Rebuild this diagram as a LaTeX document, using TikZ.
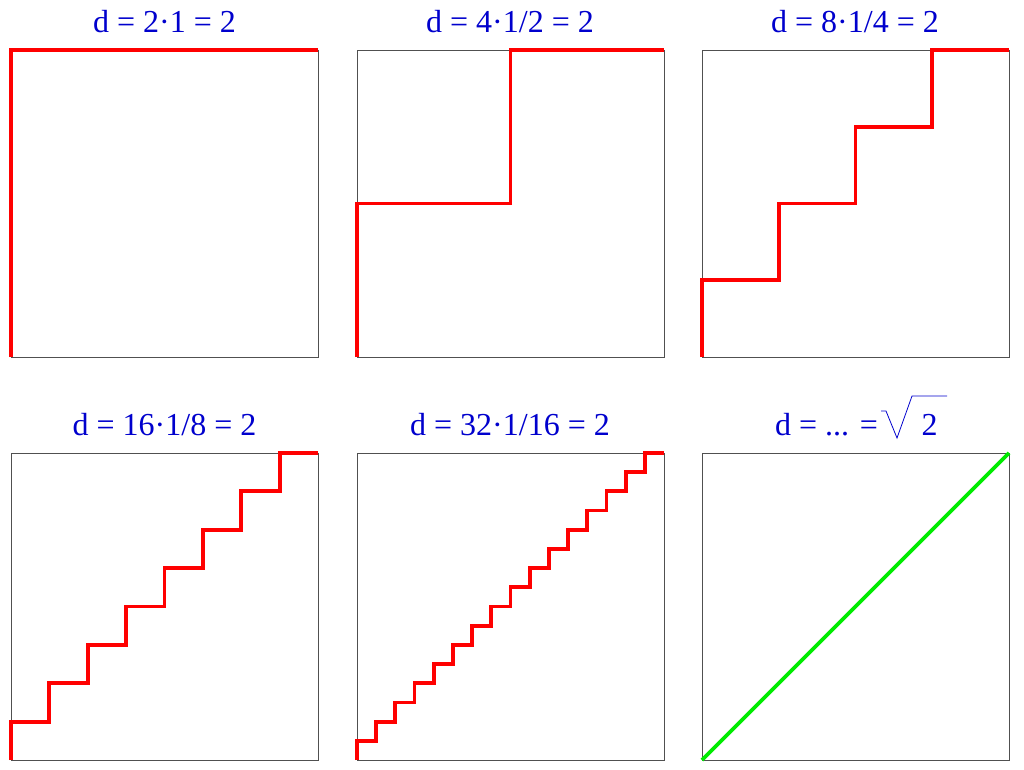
\documentclass[tikz,border=0pt]{standalone}
\usepackage{fontspec}
\setmainfont{Liberation Serif}
\definecolor{titleblue}{RGB}{0,0,205}
\definecolor{stairred}{RGB}{255,0,0}
\definecolor{diaggreen}{RGB}{0,235,0}
\definecolor{framegray}{RGB}{80,80,80}
\tikzset{
  frame/.style={draw=framegray, line width=1pt},
  stair/.style={draw=stairred, line width=3.8pt, line join=miter},
  diag/.style={draw=diaggreen, line width=3.8pt},
  title/.style={text=titleblue, font=\fontsize{32}{36}\selectfont, inner sep=0pt},
  radical/.style={draw=titleblue, line width=0.8pt}
}
\begin{document}
\begin{tikzpicture}[x=1pt,y=-1pt]
\useasboundingbox (0,0) rectangle (1024,769);
\def\s{307}
% frames
\draw[frame] (11,50) rectangle ++(\s,\s);
\draw[frame] (357,50) rectangle ++(\s,\s);
\draw[frame] (702,50) rectangle ++(\s,\s);
\draw[frame] (11,453) rectangle ++(\s,\s);
\draw[frame] (357,453) rectangle ++(\s,\s);
\draw[frame] (702,453) rectangle ++(\s,\s);
% staircases
\foreach \x/\y/\n in {11/50/1, 357/50/2, 702/50/4, 11/453/8, 357/453/16}{
  \draw[stair] (\x,\y+\s) \foreach \i in {1,...,\n}{ |- ({\x+\i*\s/\n},{\y+\s-\i*\s/\n}) };
}
% diagonal
\coordinate (dA) at (702,760);
\coordinate (dB) at (1009,453);
\draw[diag] (dA) -- (dB);
% titles
\node[title] (t1) at (164.5,22) {d = 2·1 = 2};
\node[title] (t2) at (510,22) {d = 4·1/2 = 2};
\node[title] (t3) at (855,22) {d = 8·1/4 = 2};
\node[title] (t4) at (164.5,425) {d = 16·1/8 = 2};
\node[title] (t5) at (510,425) {d = 32·1/16 = 2};
\node[title, anchor=east] (t6) at (878,425) {d = ... =};
\node[title] (t6b) at (929.5,425) {2};
\draw[radical] (881,411) -- (886,411) -- (897,438) -- (912,396) -- (947,396);
\end{tikzpicture}
\end{document}
